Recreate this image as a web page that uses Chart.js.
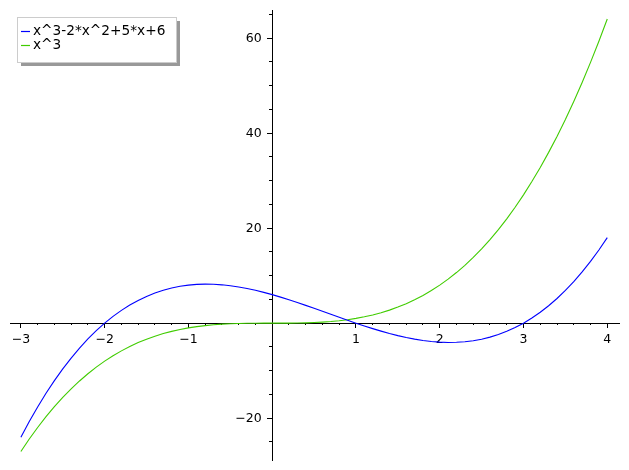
<!DOCTYPE html>
<html>
<head>
<meta charset="utf-8">
<script src="https://cdn.jsdelivr.net/npm/chart.js@4.4.0/dist/chart.umd.min.js"></script>
<style>
html,body{margin:0;padding:0;background:#fff;}
#wrap{width:629px;height:470px;}
</style>
</head>
<body>
<div id="wrap"><canvas id="c" width="629" height="470"></canvas></div>
<script>
// sample positions along x
const xValues = [-3.0,-2.9,-2.8,-2.7,-2.6,-2.5,-2.4,-2.3,-2.2,-2.1,-2.0,-1.9,-1.8,-1.7,-1.6,-1.5,-1.4,-1.3,-1.2,-1.1,-1.0,-0.9,-0.8,-0.7,-0.6,-0.5,-0.4,-0.3,-0.2,-0.1,0.0,0.1,0.2,0.3,0.4,0.5,0.6,0.7,0.8,0.9,1.0,1.1,1.2,1.3,1.4,1.5,1.6,1.7,1.8,1.9,2.0,2.1,2.2,2.3,2.4,2.5,2.6,2.7,2.8,2.9,3.0,3.1,3.2,3.3,3.4,3.5,3.6,3.7,3.8,3.9,4.0];
// series 1 (blue)
const cubicPoly = [-24,-20.709,-17.632,-14.763,-12.096,-9.625,-7.344,-5.247,-3.328,-1.581,0,1.421,2.688,3.807,4.784,5.625,6.336,6.923,7.392,7.749,8,8.151,8.208,8.177,8.064,7.875,7.616,7.293,6.912,6.479,6,5.481,4.928,4.347,3.744,3.125,2.496,1.863,1.232,0.609,0,-0.589,-1.152,-1.683,-2.176,-2.625,-3.024,-3.367,-3.648,-3.861,-4,-4.059,-4.032,-3.913,-3.696,-3.375,-2.944,-2.397,-1.728,-0.931,0,1.071,2.288,3.657,5.184,6.875,8.736,10.773,12.992,15.399,18];
// series 2 (green)
const cubePure = [-27,-24.389,-21.952,-19.683,-17.576,-15.625,-13.824,-12.167,-10.648,-9.261,-8,-6.859,-5.832,-4.913,-4.096,-3.375,-2.744,-2.197,-1.728,-1.331,-1,-0.729,-0.512,-0.343,-0.216,-0.125,-0.064,-0.027,-0.008,-0.001,0,0.001,0.008,0.027,0.064,0.125,0.216,0.343,0.512,0.729,1,1.331,1.728,2.197,2.744,3.375,4.096,4.913,5.832,6.859,8,9.261,10.648,12.167,13.824,15.625,17.576,19.683,21.952,24.389,27,29.791,32.768,35.937,39.304,42.875,46.656,50.653,54.872,59.319,64];
const seriesLabels = ['x^3-2*x^2+5*x+6', 'x^3'];
const xMajorTicks = [-3,-2,-1,1,2,3,4];
const xMinorTicks = [-2.8,-2.6,-2.4,-2.2,-1.8,-1.6,-1.4,-1.2,-0.8,-0.6,-0.4,-0.2,0.2,0.4,0.6,0.8,1.2,1.4,1.6,1.8,2.2,2.4,2.6,2.8,3.2,3.4,3.6,3.8];
const yMajorTicks = [-20,20,40,60];
const yMinorTicks = [-25,-15,-10,-5,5,10,15,25,30,35,45,50,55,65];

const XMIN = -3.13, XMAX = 4.14, YMIN = -28.8, YMAX = 65.9;
const FONT = 'DejaVu Sans';

function toPts(ys){ return xValues.map((x,i)=>({x:x, y:ys[i]})); }
function fmt(v){ return v < 0 ? '\u2212' + Math.abs(v) : String(v); }

// y tick labels drawn at the library's y scale positions
const yLabelPlugin = {
  id: 'yLabels',
  afterDraw(chart){
    const ctx = chart.ctx, ys = chart.scales.y, xs = chart.scales.x;
    const x0 = xs.getPixelForValue(0);
    ctx.save();
    ctx.font = '12.5px "' + FONT + '"';
    ctx.fillStyle = '#000';
    ctx.textAlign = 'right';
    ctx.textBaseline = 'middle';
    ys.ticks.forEach(t => {
      ctx.fillText(fmt(t.value), x0 - 10.5, ys.getPixelForValue(t.value) + 0.5);
    });
    ctx.restore();
  }
};

const legendPlugin = {
  id: 'sageLegend',
  afterDraw(chart){
    const ctx = chart.ctx;
    const bx = 17, by = 17, bw = 159, bh = 45;
    ctx.save();
    ctx.fillStyle = '#999999';
    ctx.fillRect(bx + 4, by + 4, bw, bh);
    ctx.fillStyle = '#ffffff';
    ctx.fillRect(bx, by, bw, bh);
    ctx.strokeStyle = '#cccccc';
    ctx.lineWidth = 1;
    ctx.strokeRect(bx + 0.5, by + 0.5, bw, bh);
    ctx.font = '13.7px "' + FONT + '"';
    ctx.textBaseline = 'middle';
    ctx.textAlign = 'left';
    chart.data.datasets.forEach((ds, i) => {
      const y = 31.5 + i * 14;
      ctx.strokeStyle = ds.borderColor;
      ctx.lineWidth = 1.2;
      ctx.beginPath();
      ctx.moveTo(21, y); ctx.lineTo(30, y);
      ctx.stroke();
      ctx.fillStyle = '#000';
      ctx.fillText(ds.label, 33, y);
    });
    ctx.restore();
  }
};

new Chart(document.getElementById('c'), {
  type: 'scatter',
  data: {
    datasets: [
      {label: seriesLabels[0], data: toPts(cubicPoly), borderColor: '#0000ff', showLine: true, pointRadius: 0, borderWidth: 1.1, tension: 0, xAxisID: 'x', yAxisID: 'y'},
      {label: seriesLabels[1], data: toPts(cubePure), borderColor: '#40cc00', showLine: true, pointRadius: 0, borderWidth: 1.1, tension: 0, xAxisID: 'x', yAxisID: 'y'}
    ]
  },
  options: {
    responsive: false,
    animation: false,
    layout: {padding: {left: 10, right: 10, top: 10, bottom: 10}},
    plugins: {legend: {display: false}, tooltip: {enabled: false}},
    scales: {
      x: {
        type: 'linear', min: XMIN, max: XMAX, position: {y: 0},
        afterBuildTicks: s => { s.ticks = xMajorTicks.map(v => ({value: v})); },
        ticks: {callback: v => fmt(v), color: '#000', font: {family: FONT, size: 12.5}, padding: 5, maxRotation: 0, autoSkip: false},
        grid: {drawOnChartArea: false, drawTicks: true, tickLength: 4, tickColor: '#000', tickWidth: 1},
        border: {display: true, color: '#000', width: 1}
      },
      xm: {
        type: 'linear', axis: 'x', min: XMIN, max: XMAX, position: {y: 0},
        afterBuildTicks: s => { s.ticks = xMinorTicks.map(v => ({value: v})); },
        ticks: {display: false, autoSkip: false},
        grid: {drawOnChartArea: false, drawTicks: true, tickLength: 2, tickColor: '#000', tickWidth: 1},
        border: {display: false}
      },
      y: {
        type: 'linear', min: YMIN, max: YMAX, position: {x: 0},
        afterBuildTicks: s => { s.ticks = yMajorTicks.map(v => ({value: v})); },
        ticks: {display: false, autoSkip: false},
        grid: {drawOnChartArea: false, drawTicks: true, tickLength: 5, tickColor: '#000', tickWidth: 1},
        border: {display: true, color: '#000', width: 1}
      },
      ym: {
        type: 'linear', axis: 'y', min: YMIN, max: YMAX, position: {x: 0},
        afterBuildTicks: s => { s.ticks = yMinorTicks.map(v => ({value: v})); },
        ticks: {display: false, autoSkip: false},
        grid: {drawOnChartArea: false, drawTicks: true, tickLength: 3, tickColor: '#000', tickWidth: 1},
        border: {display: false}
      }
    }
  },
  plugins: [yLabelPlugin, legendPlugin]
});
</script>
</body>
</html>
